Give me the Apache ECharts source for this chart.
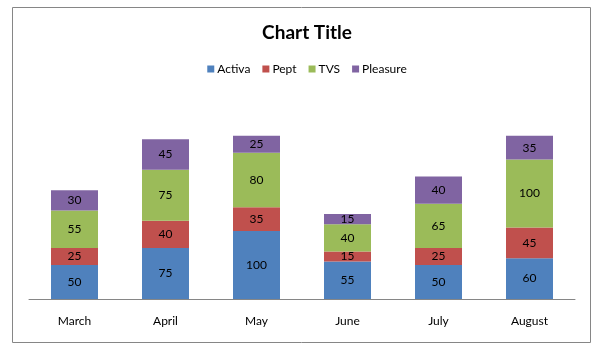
<!DOCTYPE html>
<html>
<head>
<meta charset="utf-8">
<script src="https://cdn.jsdelivr.net/npm/echarts@6/dist/echarts.min.js"></script>
<style>
html, body { margin: 0; padding: 0; background: #fff; }
#chart { width: 614px; height: 352px; }
</style>
</head>
<body>
<div id="chart"></div>
<script>
// categories and series values
const months = ['March', 'April', 'May', 'June', 'July', 'August'];
const activa = [50, 75, 100, 55, 50, 60];
const pept = [25, 40, 35, 15, 25, 45];
const tvs = [55, 75, 80, 40, 65, 100];
const pleasure = [30, 45, 25, 15, 40, 35];

const fontFamily = 'Lato, "Open Sans", sans-serif';

function barSeries(name, data, color) {
    return {
        name: name,
        type: 'bar',
        stack: 'total',
        data: data,
        barWidth: 47,
        itemStyle: { color: color },
        label: {
            show: true,
            position: 'inside',
            color: '#000',
            fontSize: 12,
            fontFamily: fontFamily
        }
    };
}

const myChart = echarts.init(document.getElementById('chart'));
myChart.setOption({
    animation: false,
    backgroundColor: '#fff',
    title: {
        text: 'Chart Title',
        left: 'center',
        top: 18,
        textStyle: { fontSize: 19, fontWeight: 'bold', color: '#000', fontFamily: fontFamily }
    },
    legend: {
        top: 58,
        left: 'center',
        itemWidth: 7,
        itemHeight: 7,
        itemGap: 12,
        icon: 'rect',
        textStyle: { fontSize: 12, color: '#000', fontFamily: fontFamily, padding: [0, 0, 0, -2] }
    },
    grid: { left: 29, right: 39, top: 95, bottom: 53 },
    xAxis: {
        type: 'category',
        data: months,
        axisLine: { lineStyle: { color: '#868686', width: 1 } },
        axisTick: { show: false },
        axisLabel: { color: '#000', fontSize: 12, fontFamily: fontFamily, margin: 16 }
    },
    yAxis: {
        type: 'value',
        min: 0,
        max: 300,
        show: false
    },
    graphic: [{
        type: 'rect',
        shape: { x: 12.5, y: 7.5, width: 578, height: 335 },
        style: { fill: null, stroke: '#868686', lineWidth: 1 },
        silent: true
    }],
    series: [
        barSeries('Activa', activa, '#4F81BD'),
        barSeries('Pept', pept, '#C0504D'),
        barSeries('TVS', tvs, '#9BBB59'),
        barSeries('Pleasure', pleasure, '#8064A2')
    ]
});
</script>
</body>
</html>
